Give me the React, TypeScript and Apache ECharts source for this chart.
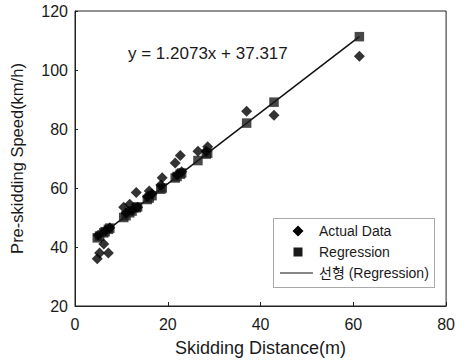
import React, { useEffect, useRef } from "react";
import * as echarts from "echarts";

const actualData: [number, number][] = [
  [4.8, 36.0], [5.3, 38.0], [6.2, 41.0], [7.2, 38.0], [5.0, 44.0], [6.5, 45.5], [7.5, 46.5],
  [10.5, 53.5], [11.0, 51.5], [11.8, 54.5], [12.3, 52.5], [13.2, 58.5], [13.5, 53.5],
  [15.6, 57.0], [16.0, 59.0], [16.6, 58.0], [18.8, 63.5], [18.5, 61.0], [21.6, 68.5],
  [22.7, 71.0], [22.0, 64.5], [23.0, 65.5], [26.5, 72.5], [28.6, 74.0], [28.3, 72.5],
  [37.0, 86.0], [42.9, 84.7], [61.3, 104.7],
];

const regressionData: [number, number][] = [
  [4.8, 43.1], [5.3, 43.7], [6.2, 44.8], [7.2, 46.0], [6.5, 45.2], [7.5, 46.4],
  [10.5, 50.0], [11.0, 50.6], [11.8, 51.6], [12.3, 52.2], [13.2, 53.3], [13.5, 53.6],
  [15.6, 56.1], [16.0, 56.6], [16.6, 57.4], [18.8, 60.0], [18.5, 59.6], [21.6, 63.4],
  [22.7, 64.7], [22.0, 63.9], [23.0, 65.1], [26.5, 69.3], [28.6, 71.8], [28.3, 71.5],
  [37.0, 82.0], [42.9, 89.1], [61.3, 111.3],
];

const lineData: [number, number][] = [[4.8, 43.1], [61.3, 111.3]];

const xTicks = [0, 20, 40, 60, 80];
const yTicks = [20, 40, 60, 80, 100, 120];
const equation = "y = 1.2073x + 37.317";
const xTitle = "Skidding Distance(m)";
const yTitle = "Pre-skidding Speed(km/h)";
const legendNames = ["Actual Data", "Regression", "선형 (Regression)"];

const FONT = "'Liberation Sans', Arial, 'Noto Sans CJK KR', sans-serif";
const INK = "#1a1a1a";

export default function App() {
  const ref = useRef<HTMLDivElement>(null);
  useEffect(() => {
    if (!ref.current) return;
    const chart = echarts.init(ref.current, undefined, { renderer: "svg" });
    const lx = 298;
    const ly = [231, 252, 273];
    chart.setOption({
      animation: false,
      backgroundColor: "#fff",
      textStyle: { fontFamily: FONT },
      grid: { left: 75, right: 9, top: 11, bottom: 55, show: true, borderColor: "#222", borderWidth: 1 },
      xAxis: {
        type: "value",
        min: xTicks[0],
        max: xTicks[xTicks.length - 1],
        interval: 20,
        name: xTitle,
        nameLocation: "middle",
        nameGap: 33,
        nameTextStyle: { fontSize: 18, color: INK, fontFamily: FONT },
        axisLine: { show: true, lineStyle: { color: "#222", width: 1 } },
        axisTick: { show: true, inside: true, length: 4, lineStyle: { color: "#222" } },
        axisLabel: { fontSize: 16, color: INK, margin: 10, fontFamily: FONT },
        splitLine: { show: false },
      },
      yAxis: {
        type: "value",
        min: yTicks[0],
        max: yTicks[yTicks.length - 1],
        interval: 20,
        name: yTitle,
        nameLocation: "middle",
        nameGap: 50,
        nameTextStyle: { fontSize: 16.5, color: INK, fontFamily: FONT },
        axisLine: { show: true, lineStyle: { color: "#222", width: 1 } },
        axisTick: { show: true, inside: true, length: 3, lineStyle: { color: "#222" } },
        axisLabel: { fontSize: 16, color: INK, margin: 7, fontFamily: FONT },
        splitLine: { show: false },
      },
      graphic: [
        {
          type: "rect",
          shape: { x: 273.5, y: 218.5, width: 161, height: 69 },
          style: { fill: "none", stroke: "#555", lineWidth: 1, lineDash: [1, 1] },
          z: 10,
        },
        {
          type: "polygon",
          shape: { points: [[lx, ly[0] - 5.5], [lx + 5.5, ly[0]], [lx, ly[0] + 5.5], [lx - 5.5, ly[0]]] },
          style: { fill: "#000" },
          z: 10,
        },
        {
          type: "rect",
          shape: { x: lx - 4.5, y: ly[1] - 4.5, width: 9, height: 9 },
          style: { fill: INK },
          z: 10,
        },
        {
          type: "line",
          shape: { x1: 280, y1: ly[2], x2: 313, y2: ly[2] },
          style: { stroke: "#111", lineWidth: 1.2 },
          z: 10,
        },
        ...legendNames.map((n, i) => ({
          type: "text",
          x: 319,
          y: ly[i],
          style: { text: n, fontSize: 14, fill: INK, fontFamily: FONT, verticalAlign: "middle", align: "left" },
          z: 10,
        })),
        {
          type: "text",
          x: 128,
          y: 53,
          style: { text: equation, fontSize: 17, fill: INK, fontFamily: FONT, verticalAlign: "middle" },
        },
      ],
      series: [
        {
          name: legendNames[2],
          type: "line",
          data: lineData,
          symbol: "none",
          lineStyle: { color: "#111", width: 1.5 },
          z: 2,
        },
        {
          name: legendNames[1],
          type: "scatter",
          data: regressionData,
          symbol: "rect",
          symbolSize: 9.5,
          itemStyle: { color: INK },
          z: 3,
        },
        {
          name: legendNames[0],
          type: "scatter",
          data: actualData,
          symbol: "diamond",
          symbolSize: 11,
          itemStyle: { color: "#000" },
          z: 4,
        },
      ],
    });
    return () => chart.dispose();
  }, []);
  return <div ref={ref} style={{ width: 458, height: 362, position: "absolute", left: 0, top: 0 }} />;
}
